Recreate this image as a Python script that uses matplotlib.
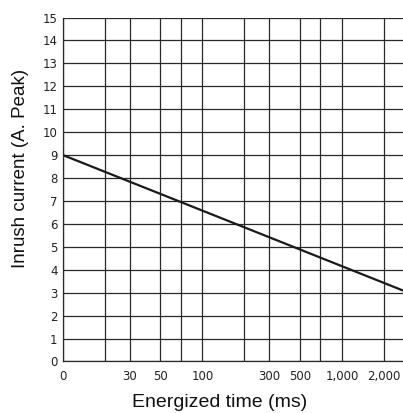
import matplotlib
matplotlib.use('Agg')
import matplotlib.pyplot as plt
from matplotlib.ticker import FixedLocator, FixedFormatter, NullLocator

plt.rcParams['font.family'] = ['Liberation Sans', 'DejaVu Sans']

# data
time_ms = [10, 3000]
current_a = [9, 3]

grid_x = [10, 20, 30, 50, 70, 100, 200, 300, 500, 700, 1000, 2000]
label_x = [10, 30, 50, 100, 300, 500, 1000, 2000]
label_x_text = ['0', '30', '50', '100', '300', '500', '1,000', '2,000']
y_ticks = list(range(0, 16))

fig = plt.figure(figsize=(4.03, 4.13), dpi=100)
ax = fig.add_axes([0.1563, 0.1247, 0.8437, 0.8329])

ax.plot(time_ms, current_a, color='#1a1a1a', linewidth=1.6, solid_capstyle='butt')

ax.set_xscale('log')
ax.set_xlim(10, 2740)
ax.set_ylim(0, 15)

# grid drawn as plain lines, like the printed chart
for gx in grid_x:
    ax.axvline(gx, color='#2a2a2a', linewidth=0.9, zorder=0)
for gy in y_ticks:
    ax.axhline(gy, color='#2a2a2a', linewidth=0.9, zorder=0)

ax.xaxis.set_major_locator(FixedLocator(label_x))
ax.xaxis.set_major_formatter(FixedFormatter(label_x_text))
ax.xaxis.set_minor_locator(NullLocator())
ax.set_yticks(y_ticks)
ax.tick_params(axis='both', length=0, labelsize=8.5, colors='#222222')
ax.tick_params(axis='x', pad=6)
ax.tick_params(axis='y', pad=4)
for lbl in ax.get_xticklabels() + ax.get_yticklabels():
    lbl.set_family('DejaVu Sans')

for side in ['top', 'right']:
    ax.spines[side].set_visible(False)
for side in ['left', 'bottom']:
    ax.spines[side].set_color('#2a2a2a')
    ax.spines[side].set_linewidth(0.9)

ax.set_xlabel('Energized time (ms)', fontsize=14, color='#111111')
ax.xaxis.set_label_coords(0.46, -0.094)
ax.set_ylabel('Inrush current (A. Peak)', fontsize=13.5, color='#111111')
ax.yaxis.set_label_coords(-0.1, 0.56)

fig.savefig('out.png', dpi=100)
